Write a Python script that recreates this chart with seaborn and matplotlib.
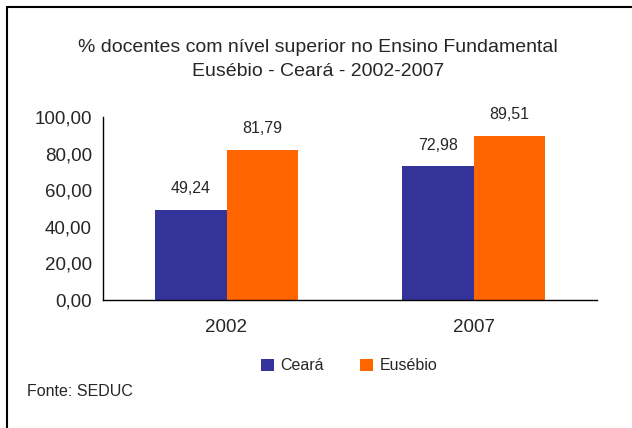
import pandas as pd
import numpy as np
import matplotlib.pyplot as plt
import seaborn as sns
from matplotlib.lines import Line2D
from matplotlib.patches import Patch

# ---- data ----
years = ["2002", "2007"]
regions = ["Ceará", "Eusébio"]
ceara = [49.24, 72.98]
eusebio = [81.79, 89.51]
colors = ["#333399", "#FF6600"]

df = pd.DataFrame({
    "ano": years * 2,
    "regiao": [regions[0]] * 2 + [regions[1]] * 2,
    "valor": ceara + eusebio,
})

sns.set_style("white")
plt.rcParams["font.family"] = ["Liberation Sans", "DejaVu Sans"]

fig = plt.figure(figsize=(6.32, 4.28), dpi=100)
ax = fig.add_axes([103 / 632, 1 - 300 / 428, (597 - 103) / 632, (300 - 117) / 428])

sns.barplot(data=df, x="ano", y="valor", hue="regiao", order=years,
            hue_order=regions, palette=colors, width=0.575, gap=0,
            saturation=1, linewidth=0, ax=ax, legend=False)

# ---- axes ----
ax.set_xlim(-0.5, 1.5)
ax.set_ylim(0, 100)
ax.set_yticks(np.arange(0, 101, 20))
ax.set_yticklabels([f"{v:.2f}".replace(".", ",") for v in np.arange(0, 101, 20)])
ax.set_xticks([0, 1])
ax.set_xticks([-0.5, 0.5, 1.5], minor=True)
ax.tick_params(axis="x", which="major", length=0, pad=14, labelsize=13.5)
ax.tick_params(axis="x", which="minor", length=5, width=1, color="#333333", direction="out")
ax.tick_params(axis="y", length=5, width=1, color="#333333", direction="out", labelsize=13.5, pad=3)
ax.set_xlabel("")
ax.set_ylabel("")
for s in ["top", "right"]:
    ax.spines[s].set_visible(False)
for s in ["left", "bottom"]:
    ax.spines[s].set_color("black")
    ax.spines[s].set_linewidth(1)

# value labels
for cont in ax.containers:
    ax.bar_label(cont, labels=[f"{v:.2f}".replace(".", ",") for v in cont.datavalues],
                 padding=10, fontsize=11.5)

# ---- title ----
fig.text(0.503, 1 - 47 / 428, "% docentes com nível superior no Ensino Fundamental",
         ha="center", va="center", fontsize=14)
fig.text(0.503, 1 - 72 / 428, "Eusébio - Ceará - 2002-2007",
         ha="center", va="center", fontsize=14)

# ---- legend ----
handles = [Patch(facecolor=c, edgecolor="none") for c in colors]
fig.legend(handles, regions, loc="center", bbox_to_anchor=(349 / 632, 1 - 366 / 428),
           ncol=2, frameon=False, fontsize=11.5, handlelength=0.8, handleheight=0.8,
           handletextpad=0.4, columnspacing=2.3)

fig.text(27 / 632, 1 - 391 / 428, "Fonte: SEDUC", ha="left", va="center", fontsize=11.5)

# outer border (top + left only visible)
fig.add_artist(Line2D([7 / 632, 7 / 632], [0, 1 - 7 / 428], transform=fig.transFigure,
                      color="black", linewidth=1.5))
fig.add_artist(Line2D([7 / 632, 1], [1 - 7 / 428, 1 - 7 / 428], transform=fig.transFigure,
                      color="black", linewidth=1.5))

fig.savefig("out.png", dpi=100)
